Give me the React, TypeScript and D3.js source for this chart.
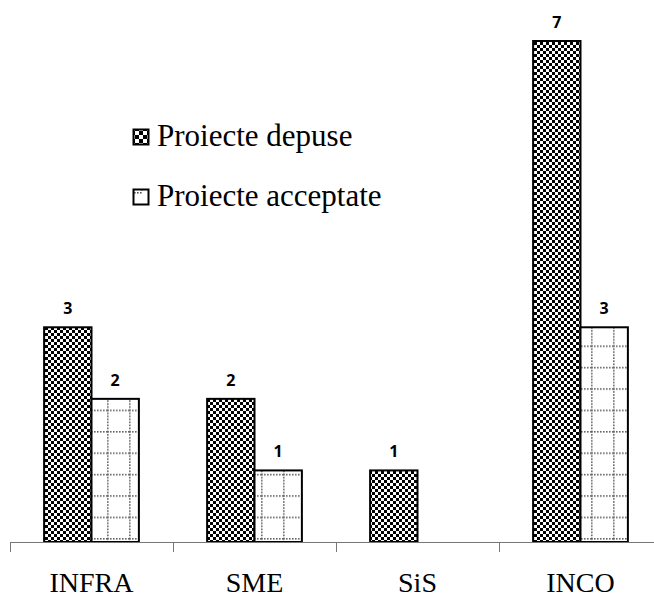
import React from "react";
import * as d3 from "d3";

const categories = ["INFRA", "SME", "SiS", "INCO"];
const series = ["Proiecte depuse", "Proiecte acceptate"];
const depuse = [3, 2, 1, 7];
const acceptate = [2, 1, 0, 3];

const W = 654;
const H = 597;

const serif = '"Liberation Serif", "Times New Roman", Times, serif';
const sans = '"Open Sans", "Liberation Sans", Arial, sans-serif';

export default function App() {
  const x0 = d3.scaleBand<string>().domain(categories).range([10, 662]).padding(0);
  const x1 = d3
    .scaleBand<string>()
    .domain(series)
    .range([0, x0.bandwidth()])
    .paddingInner(0)
    .paddingOuter(0.72);
  const y = d3.scaleLinear().domain([0, 7]).range([542, 41]);
  const values = [depuse, acceptate];
  const fills = ["url(#checker)", "url(#dotgrid)"];

  const dotsH: number[] = d3.range(0, 22, 3);
  const dotsV: number[] = d3.range(0, 21.4, 3);

  return (
    <svg
      width={W}
      height={H}
      style={{ position: "absolute", left: 0, top: 0, background: "#fff" }}
    >
      <defs>
        <pattern id="checker" patternUnits="userSpaceOnUse" width={6} height={6}>
          <rect width={6} height={6} fill="#fff" />
          <rect x={0} y={0} width={3} height={3} fill="#000" />
          <rect x={3} y={3} width={3} height={3} fill="#000" />
        </pattern>
        <pattern id="checkerL" patternUnits="userSpaceOnUse" width={8} height={8} x={134} y={130}>
          <rect width={8} height={8} fill="#fff" />
          <rect x={0} y={0} width={4} height={4} fill="#000" />
          <rect x={4} y={4} width={4} height={4} fill="#000" />
        </pattern>
        <pattern id="dotgrid" patternUnits="userSpaceOnUse" width={22} height={21.4} x={85} y={3}>
          <rect width={22} height={21.4} fill="#fff" />
          {dotsH.map((d) => (
            <rect key={"h" + d} x={d} y={0} width={1.6} height={1.6} fill="#666" />
          ))}
          {dotsV.map((d) => (
            <rect key={"v" + d} x={0} y={d} width={1.6} height={1.6} fill="#666" />
          ))}
        </pattern>
        <pattern id="dotgridL" patternUnits="userSpaceOnUse" width={15} height={15} x={133} y={188}>
          <rect width={15} height={15} fill="#fff" />
          {[3, 6, 9].map((d) => (
            <rect key={"l" + d} x={d} y={10} width={1.6} height={1.6} fill="#555" />
          ))}
          <rect x={10} y={7} width={1.6} height={1.6} fill="#555" />
        </pattern>
      </defs>

      {categories.map((c, i) =>
        series.map((s, j) => {
          const v = values[j][i];
          if (!v) return null;
          const bx = (x0(c) as number) + (x1(s) as number);
          const bw = x1.bandwidth();
          return (
            <g key={c + s}>
              <rect
                x={bx}
                y={y(v)}
                width={bw}
                height={y(0) - y(v)}
                fill={fills[j]}
                stroke="#000"
                strokeWidth={2}
              />
              <text
                x={bx + bw / 2}
                y={y(v) - 13}
                textAnchor="middle"
                style={{ fontFamily: sans, fontWeight: 700, fontSize: 16 }}
                fill="#000"
              >
                {v}
              </text>
            </g>
          );
        })
      )}

      {/* axis */}
      <line x1={10} x2={662} y1={y(0) + 0.5} y2={y(0) + 0.5} stroke="#777" strokeWidth={1} />
      {categories.map((c) => (
        <line
          key={"t" + c}
          x1={(x0(c) as number) + 0.5}
          x2={(x0(c) as number) + 0.5}
          y1={y(0)}
          y2={y(0) + 10}
          stroke="#777"
          strokeWidth={1}
        />
      ))}
      {categories.map((c) => (
        <text
          key={"l" + c}
          x={(x0(c) as number) + x0.bandwidth() / 2}
          y={592}
          textAnchor="middle"
          style={{ fontFamily: serif, fontSize: 28 }}
          fill="#000"
        >
          {c}
        </text>
      ))}

      {/* legend */}
      {series.map((s, j) => (
        <g key={"lg" + s} transform={`translate(133, ${129 + j * 60})`}>
          <rect
            x={0.5}
            y={0.5}
            width={15}
            height={15}
            fill={j === 0 ? "url(#checkerL)" : "url(#dotgridL)"}
            stroke="#000"
            strokeWidth={2}
          />
          <text
            x={24}
            y={17}
            style={{ fontFamily: serif, fontSize: 31 }}
            fill="#000"
          >
            {s}
          </text>
        </g>
      ))}
    </svg>
  );
}
